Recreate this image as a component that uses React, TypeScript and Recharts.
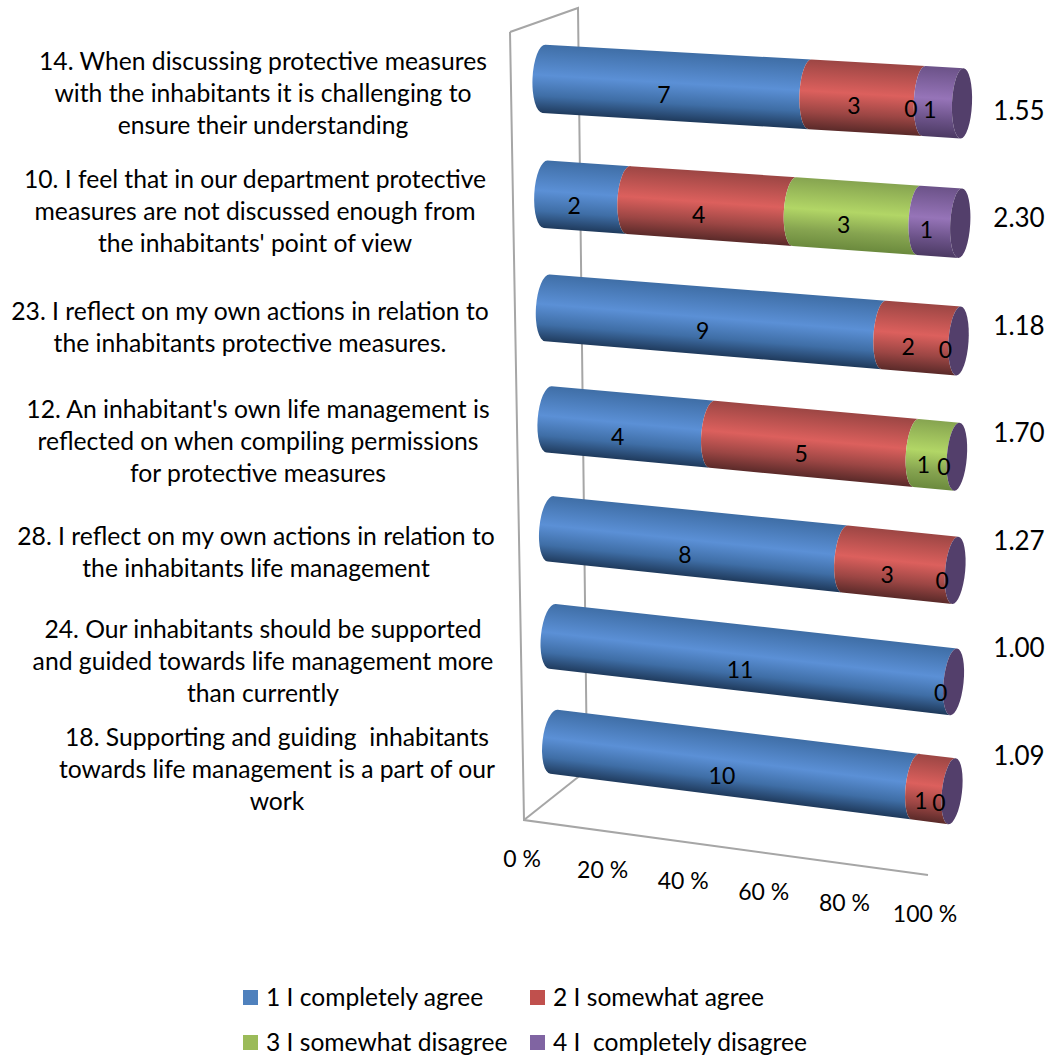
import React from "react";
import { BarChart, Bar, XAxis, YAxis, LabelList, Legend, Customized } from "recharts";

// Survey statements, top to bottom, drawn as wrapped lines
const statements = [
  "14. When discussing protective measures|with the inhabitants it is challenging to|ensure their understanding",
  "10. I feel that in our department protective|measures are not discussed enough from|the inhabitants' point of view",
  "23. I reflect on my own actions in relation to|the inhabitants protective measures.",
  "12. An inhabitant's own life management is|reflected on when compiling permissions|for protective measures",
  "28. I reflect on my own actions in relation to|the inhabitants life management",
  "24. Our inhabitants should be supported|and guided towards life management more|than currently",
  "18. Supporting and guiding  inhabitants|towards life management is a part of our|work",
];
const completelyAgree = [7, 2, 9, 4, 8, 11, 10];
const somewhatAgree = [3, 4, 2, 5, 3, null, 1];
const somewhatDisagree = [0, 3, null, 1, null, null, null];
const completelyDisagree = [1, 1, 0, 0, 0, 0, 0];
const means = ["1.55", "2.30", "1.18", "1.70", "1.27", "1.00", "1.09"];
const percentTicks = [0, 0.2, 0.4, 0.6, 0.8, 1];
const seriesNames = ["1 I completely agree", "2 I somewhat agree", "3 I somewhat disagree", "4 I  completely disagree"];

const rows = statements.map((statement, i) => ({
  statement,
  mean: means[i],
  a: completelyAgree[i],
  b: somewhatAgree[i],
  c: somewhatDisagree[i],
  d: completelyDisagree[i],
}));

// Plot rectangle before the 3D projection
const CHART = { width: 1055, height: 1057 };
const PLOT = { left: 540, top: 56, width: 420, height: 752.5 };
const MEAN_AXIS_WIDTH = 60;
const FONT = "Lato, Carlito, sans-serif";

const lerp = (a: number, b: number, t: number) => a + (b - a) * t;

// Cylinder axis endpoints of the first and last row
const AXIS = {
  leftX: [544, 554], leftY: [78.5, 741.5],
  rightX: [962, 952], rightY: [103, 791],
};

// Maps a plot position to the page; rows crowd slightly toward the bottom
function project(px: number, py: number) {
  const u = (px - PLOT.left) / PLOT.width;
  const linear = ((py - PLOT.top) / PLOT.height * 7 - 0.5) / 6;
  const t = linear + 0.055 * linear * (1 - linear);
  const lx = lerp(AXIS.leftX[0], AXIS.leftX[1], t);
  const ly = lerp(AXIS.leftY[0], AXIS.leftY[1], t);
  const rx = lerp(AXIS.rightX[0], AXIS.rightX[1], t);
  const ry = lerp(AXIS.rightY[0], AXIS.rightY[1], t);
  return { x: lerp(lx, rx, u), y: lerp(ly, ry, u), slope: (ry - ly) / (rx - lx), t, u };
}

// Ring of the cylinder at a plot position
function ring(px: number, cy: number, half: number) {
  const c = project(px, cy);
  const ringRy = half * lerp(1.04, 1.07, c.u) * lerp(1.06, 1, c.t);
  const tilt = lerp(2.5, 6.5, c.t); // degrees
  const rad = (tilt * Math.PI) / 180;
  const dx = Math.sin(rad) * ringRy;
  const dy = Math.cos(rad) * ringRy;
  return {
    cx: c.x, cy: c.y, slope: c.slope,
    top: { x: c.x + dx, y: c.y - dy },
    bot: { x: c.x - dx, y: c.y + dy },
    rx: lerp(11.5, 10, c.u), ry: ringRy, tilt,
  };
}

type Shade = { edge: string; mid: string; low: string };
const SHADES: Shade[] = [
  { edge: "#3F6EA6", mid: "#5B90D6", low: "#1F3A5C" },
  { edge: "#9C4644", mid: "#DC605D", low: "#5A2A29" },
  { edge: "#86A450", mid: "#B2D666", low: "#6B8A3D" },
  { edge: "#6B5288", mid: "#9674B8", low: "#4C3A63" },
];
const CAP_FILL = "#533F6B";

function Segment(props: any) {
  const { x, y, width, height, seriesIndex, index } = props;
  if (width == null || height == null) return null;
  const shade = SHADES[seriesIndex];
  const cy = y + height / 2;
  const a = ring(x, cy, height / 2);
  const b = ring(x + width, cy, height / 2);
  const id = `cyl-${seriesIndex}-${index}`;
  const len = Math.hypot(1, a.slope);
  const nx = -a.slope / len;
  const ny = 1 / len;
  const mx = (a.cx + b.cx) / 2;
  const my = (a.cy + b.cy) / 2;
  const half = (a.ry + b.ry) / 2;
  const body =
    `M${a.top.x},${a.top.y} L${b.top.x},${b.top.y} ` +
    `A${b.rx},${b.ry} ${b.tilt} 0 0 ${b.bot.x},${b.bot.y} ` +
    `L${a.bot.x},${a.bot.y} ` +
    `A${a.rx},${a.ry} ${a.tilt} 0 1 ${a.top.x},${a.top.y} Z`;
  return (
    <g>
      <defs>
        <linearGradient id={id} gradientUnits="userSpaceOnUse"
          x1={mx - nx * half} y1={my - ny * half} x2={mx + nx * half} y2={my + ny * half}>
          <stop offset="0" stopColor={shade.edge} />
          <stop offset="0.45" stopColor={shade.mid} />
          <stop offset="0.75" stopColor={shade.edge} />
          <stop offset="1" stopColor={shade.low} />
        </linearGradient>
      </defs>
      {width > 0 && <path d={body} fill={`url(#${id})`} />}
      {seriesIndex === 3 && (
        <ellipse cx={b.cx} cy={b.cy} rx={b.rx} ry={b.ry} fill={CAP_FILL}
          transform={`rotate(${b.tilt} ${b.cx} ${b.cy})`} />
      )}
    </g>
  );
}

const segmentShape = (seriesIndex: number) => (props: any) => <Segment {...props} seriesIndex={seriesIndex} />;

// Count printed on a segment; the text sits slightly ahead of and below the axis
function CountLabel(props: any) {
  const { x, y, width, height, value } = props;
  if (value == null) return null;
  const p = project(x + width / 2, y + height / 2);
  return (
    <text x={p.x - 13} y={p.y + lerp(7, 11, p.t)} textAnchor="middle" dominantBaseline="central"
      fontFamily={FONT} fontSize={23} fill="#000">
      {value}
    </text>
  );
}

// Statement blocks sit beside their rows, not on the band centres
const STATEMENT_CENTRE_Y = [92, 210, 326, 440, 551, 660, 768];
const STATEMENT_CENTRE_X = [263, 255, 250, 258, 256, 263, 277];

function StatementTick(props: any) {
  const { payload, index } = props;
  const lines = String(payload.value).split("|");
  const cy = STATEMENT_CENTRE_Y[index];
  return (
    <text textAnchor="middle" fontFamily={FONT} fontSize={24.7} fill="#000" xmlSpace="preserve">
      {lines.map((line, i) => (
        <tspan key={i} x={STATEMENT_CENTRE_X[index]} y={cy + (i - (lines.length - 1) / 2) * 32} dominantBaseline="central">
          {line}
        </tspan>
      ))}
    </text>
  );
}

function MeanTick(props: any) {
  const { y, payload } = props;
  return (
    <text x={1019} y={y} textAnchor="middle" dominantBaseline="central" fontFamily={FONT} fontSize={26} fill="#000">
      {payload.value}
    </text>
  );
}

// Row of percent labels running parallel to the floor's front edge
const TICK_ROW = { x0: 522, y0: 858, x1: 925, y1: 913 };

function PercentTick(props: any) {
  const { x, payload } = props;
  const u = (x - PLOT.left) / PLOT.width;
  return (
    <text x={lerp(TICK_ROW.x0, TICK_ROW.x1, u)} y={lerp(TICK_ROW.y0, TICK_ROW.y1, u)} textAnchor="middle"
      dominantBaseline="central" fontFamily={FONT} fontSize={23} fill="#000">
      {`${Math.round(payload.value * 100)} %`}
    </text>
  );
}

// Back wall, side wall and floor outline
function Walls() {
  const stroke = "#A6A6A6";
  const lines = [
    "M510,32 L524,820 L928,875",
    "M510,32 L578,8 L587,770",
    "M524,820 L587,770",
  ];
  return <g>{lines.map((d) => <path key={d} d={d} fill="none" stroke={stroke} strokeWidth={2} />)}</g>;
}

const LEGEND_COLORS = ["#4F81BD", "#C0504D", "#9BBB59", "#8064A2"];

function LegendItem({ i }: { i: number }) {
  return (
    <span style={{ display: "flex", alignItems: "center", whiteSpace: "pre", height: 24, lineHeight: "24px" }}>
      <span style={{ width: 15, height: 15, background: LEGEND_COLORS[i], marginRight: 8 }} />
      {seriesNames[i]}
    </span>
  );
}

// Legend laid over the chart; its zero height keeps the plot area untouched
function LegendRows() {
  return (
    <div style={{ height: 0, overflow: "visible" }}>
      <div style={{
        display: "grid", gridTemplateColumns: "287px 300px", gridAutoRows: "24px", rowGap: 21,
        fontFamily: FONT, fontSize: 24.6, color: "#000", paddingLeft: 243, textAlign: "left",
      }}>
        {seriesNames.map((_, i) => <LegendItem key={i} i={i} />)}
      </div>
    </div>
  );
}

export default function App() {
  return (
    <div style={{ position: "absolute", left: 0, top: 0, width: CHART.width, height: CHART.height, overflow: "hidden" }}>
      <BarChart
        width={CHART.width}
        height={CHART.height}
        data={rows}
        layout="vertical"
        stackOffset="expand"
        margin={{
          top: PLOT.top,
          left: 0,
          right: CHART.width - PLOT.left - PLOT.width - MEAN_AXIS_WIDTH,
          bottom: CHART.height - PLOT.top - PLOT.height - 1,
        }}
      >
        <Customized component={Walls} />
        <XAxis type="number" domain={[0, 1]} ticks={percentTicks} height={1} axisLine={false} tickLine={false} tick={<PercentTick />} interval={0} />
        <YAxis type="category" dataKey="statement" width={PLOT.left} axisLine={false} tickLine={false} tick={<StatementTick />} interval={0} />
        <YAxis type="category" dataKey="mean" yAxisId="mean" orientation="right" width={MEAN_AXIS_WIDTH} axisLine={false} tickLine={false} tick={<MeanTick />} interval={0} />
        <Bar dataKey="a" name={seriesNames[0]} stackId="s" barSize={62} fill={LEGEND_COLORS[0]} isAnimationActive={false} shape={segmentShape(0)}>
          <LabelList dataKey="a" content={<CountLabel />} />
        </Bar>
        <Bar dataKey="b" name={seriesNames[1]} stackId="s" barSize={62} fill={LEGEND_COLORS[1]} isAnimationActive={false} shape={segmentShape(1)}>
          <LabelList dataKey="b" content={<CountLabel />} />
        </Bar>
        <Bar dataKey="c" name={seriesNames[2]} stackId="s" barSize={62} fill={LEGEND_COLORS[2]} isAnimationActive={false} shape={segmentShape(2)}>
          <LabelList dataKey="c" content={<CountLabel />} />
        </Bar>
        <Bar dataKey="d" name={seriesNames[3]} stackId="s" barSize={62} fill={LEGEND_COLORS[3]} isAnimationActive={false} shape={segmentShape(3)}>
          <LabelList dataKey="d" content={<CountLabel />} />
        </Bar>
        <Legend content={<LegendRows />} wrapperStyle={{ left: 0, top: 985, width: 1000 }} />
      </BarChart>
    </div>
  );
}
